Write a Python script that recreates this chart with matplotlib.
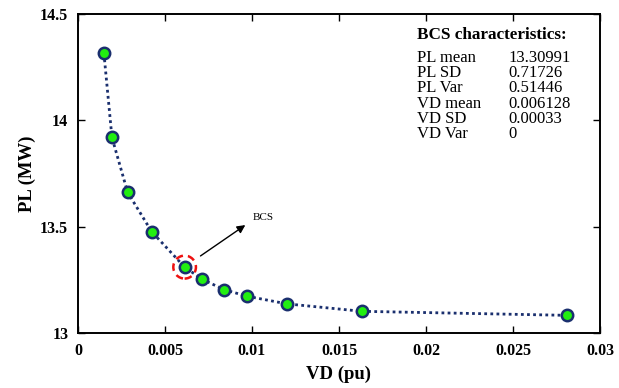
import matplotlib
matplotlib.use("Agg")
import matplotlib.pyplot as plt
from matplotlib.patches import Ellipse

# Pareto front: voltage deviation vs. power loss
vd = [0.00149, 0.00195, 0.00285, 0.00423, 0.006128, 0.00713, 0.00839,
      0.00971, 0.01201, 0.01632, 0.0281]
pl = [14.315, 13.92, 13.662, 13.477, 13.30991, 13.253, 13.204,
      13.173, 13.137, 13.102, 13.083]

bcs_vd = 0.006128
bcs_pl = 13.30991

stat_names = ["PL mean", "PL SD", "PL Var", "VD mean", "VD SD", "VD Var"]
stat_values = ["13.30991", "0.71726", "0.51446", "0.006128", "0.00033", "0"]

xticks = [0, 0.005, 0.01, 0.015, 0.02, 0.025, 0.03]
xticklabels = ["0", "0.005", "0.01", "0.015", "0.02", "0.025", "0.03"]
yticks = [13, 13.5, 14, 14.5]
yticklabels = ["13", "13.5", "14", "14.5"]

plt.rcParams["font.family"] = ["Liberation Serif", "DejaVu Serif"]

fig = plt.figure(figsize=(6.19, 3.88), dpi=100)
ax = fig.add_axes([78 / 619, 1 - 333 / 388, 522 / 619, 319 / 388])

ax.plot(vd, pl, linestyle=(0, (1, 1.2)), color="#1a2f6e", linewidth=2.0,
        marker="o", markersize=8.2, markerfacecolor="#22ee11",
        markeredgecolor="#1a2f6e", markeredgewidth=1.8, zorder=3)

ax.set_xlim(0, 0.03)
ax.set_ylim(13, 14.5)
ax.set_xticks(xticks)
ax.set_xticklabels(xticklabels)
ax.set_yticks(yticks)
ax.set_yticklabels(yticklabels)
ax.tick_params(direction="in", top=True, right=True, length=5, width=1,
               labelsize=11.5, pad=7)
for lab in ax.get_xticklabels() + ax.get_yticklabels():
    lab.set_fontweight("bold")
for s in ax.spines.values():
    s.set_linewidth(1.4)

ax.set_xlabel("VD (pu)", fontsize=13.5, fontweight="bold", labelpad=5)
ax.set_ylabel("PL (MW)", fontsize=13.5, fontweight="bold", labelpad=3)

# Highlight the best compromise solution
ax.add_patch(Ellipse((bcs_vd, bcs_pl), width=0.0013, height=0.108,
                     fill=False, edgecolor="#ee1111", linestyle=(0, (3, 2)),
                     linewidth=1.8, zorder=4))
ax.annotate("", xy=(bcs_vd + 0.00362, bcs_pl + 0.205),
            xytext=(bcs_vd + 0.00078, bcs_pl + 0.045),
            arrowprops=dict(arrowstyle="-|>", color="black", lw=1.0,
                            mutation_scale=12))
ax.text(bcs_vd + 0.00391, bcs_pl + 0.235, "BCS", fontsize=8, va="center",
        ha="left")

# Statistics of the best compromise solution
ax.text(0.650, 0.935, "BCS characteristics:", transform=ax.transAxes,
        fontsize=12.3, fontweight="bold", ha="left", va="center")
for i, (name, val) in enumerate(zip(stat_names, stat_values)):
    y = 0.862 - i * 0.0476
    ax.text(0.650, y, name, transform=ax.transAxes,
            fontsize=12, ha="left", va="center")
    ax.text(0.824, y, val, transform=ax.transAxes,
            fontsize=12, ha="left", va="center")

fig.savefig("out.png", dpi=100)
